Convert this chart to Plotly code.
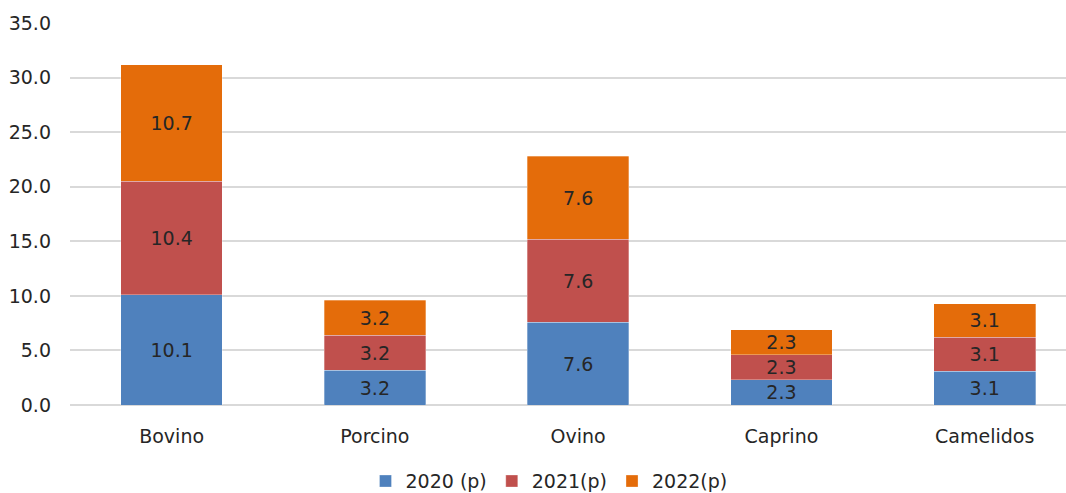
import plotly.graph_objects as go

categories = ["Bovino", "Porcino", "Ovino", "Caprino", "Camelidos"]
series_names = ["2020 (p)", "2021(p)", "2022(p)"]
values_2020 = [10.1, 3.2, 7.6, 2.3, 3.1]
values_2021 = [10.4, 3.2, 7.6, 2.3, 3.1]
values_2022 = [10.7, 3.2, 7.6, 2.3, 3.1]
colors = ["#4F81BD", "#C0504D", "#E46C0A"]
y_ticks = [0, 5, 10, 15, 20, 25, 30, 35]

FONT = "DejaVu Sans"
TEXT_COLOR = "#262626"

fig = go.Figure()
for name, vals, col in zip(series_names, [values_2020, values_2021, values_2022], colors):
    fig.add_trace(go.Bar(
        name=name,
        x=categories,
        y=vals,
        marker=dict(color=col, line=dict(color="rgba(255,255,255,0.5)", width=0.6)),
        text=[f"{v:.1f}" for v in vals],
        textposition="inside",
        insidetextanchor="middle",
        constraintext="none",
        textfont=dict(family=FONT, size=19, color=TEXT_COLOR),
        cliponaxis=False,
    ))

fig.update_layout(
    barmode="stack",
    bargap=0.5,
    width=1066,
    height=493,
    margin=dict(l=70, r=0, t=23, b=88),
    plot_bgcolor="white",
    paper_bgcolor="white",
    font=dict(family=FONT, size=19, color=TEXT_COLOR),
    showlegend=True,
    legend=dict(
        orientation="h",
        xref="container",
        x=0.515,
        xanchor="center",
        yref="container",
        y=0.024,
        yanchor="middle",
        font=dict(family=FONT, size=19, color=TEXT_COLOR),
        itemwidth=30,
        traceorder="normal",
    ),
)

fig.update_xaxes(
    range=[-0.5, 4.4],
    showgrid=False,
    showline=False,
    ticks="",
    ticklabelstandoff=18,
    tickfont=dict(family=FONT, size=19, color=TEXT_COLOR),
)
fig.update_yaxes(
    range=[0, 35.01],
    tickvals=y_ticks,
    ticktext=[f"{t:.1f}" for t in y_ticks],
    showgrid=True,
    gridcolor="#D9D9D9",
    gridwidth=1.5,
    zeroline=True,
    zerolinecolor="#D9D9D9",
    zerolinewidth=1.5,
    showline=False,
    ticks="",
    ticklabelstandoff=18,
    tickfont=dict(family=FONT, size=19, color=TEXT_COLOR),
)

fig.write_html("out.html")
